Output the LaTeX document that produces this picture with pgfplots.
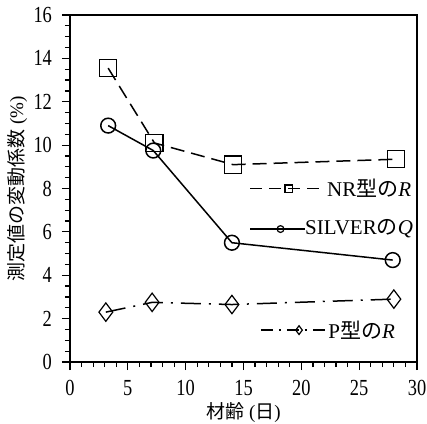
\documentclass[border=0pt]{standalone}
\usepackage{fontspec}
\setmainfont{Liberation Serif}
\newfontfamily\tickfont[FakeStretch=0.8]{Liberation Serif}
\newfontfamily\cjk{Noto Sans CJK JP}
\usepackage{pgfplots}
\pgfplotsset{compat=1.18}
\begin{document}
\begin{tikzpicture}
\begin{axis}[
  scale only axis,
  width=173.5pt, height=173.5pt,
  xmin=0, xmax=30, ymin=0, ymax=16,
  xtick={0,5,...,30}, ytick={0,2,...,16},
  minor x tick num=4, minor y tick num=3,
  tick align=outside,
  xtick pos=bottom, ytick pos=left,
  major tick length=4pt, minor tick length=2.5pt,
  axis line style={line width=0.9pt},
  every tick/.style={black, line width=0.6pt},
  /pgf/number format/assume math mode=true,
  tick label style={font=\tickfont\fontsize{11.5}{13}\selectfont},
  xticklabel style={yshift=-1.5pt},
  yticklabel style={xshift=-1.5pt},
  xlabel={{\cjk 材齢} ({\cjk 日})},
  ylabel={{\cjk 測定値の変動係数} (\%)},
  label style={font=\fontsize{9.5}{11}\selectfont},
  xlabel style={at={(axis description cs:0.5,-0.147)}, anchor=center},
  ylabel style={at={(axis description cs:-0.152,0.5)}, anchor=center},
  clip=false,
]
% NR
\addplot[black, line width=0.75pt, dash pattern=on 7pt off 3.5pt,
  mark=square, mark size=4.3pt, mark options={solid, fill=white, line width=0.6pt}]
  coordinates {(3.3,13.55) (7.3,10.1) (14.1,9.1) (28.2,9.35)};
% SILVER
\addplot[black, line width=0.75pt,
  mark=o, mark size=3.7pt, mark options={solid, fill=white, line width=0.75pt}]
  coordinates {(3.3,10.9) (7.2,9.75) (14.0,5.5) (27.9,4.7)};
% P
\addplot[black, line width=0.75pt, dash pattern=on 10pt off 4pt on 1pt off 4pt,
  mark=diamond, mark size=4.6pt, mark options={solid, fill=white, line width=0.6pt}]
  coordinates {(3.1,2.3) (7.1,2.75) (14.0,2.65) (28.0,2.9)};
% legend samples
\addplot[black, line width=0.75pt, dash pattern=on 6pt off 3.5pt,
  mark=square, mark size=1.8pt, mark indices={2}, mark options={solid, fill=white, line width=0.6pt}]
  coordinates {(15.6,8.0) (18.9,8.0) (22.1,8.0)};
\addplot[black, line width=0.75pt,
  mark=o, mark size=1.7pt, mark indices={2}, mark options={solid, fill=white, line width=0.6pt}]
  coordinates {(15.6,6.13) (18.2,6.13) (20.3,6.13)};
\addplot[black, line width=0.75pt, dash pattern=on 6pt off 3pt on 1pt off 3pt,
  mark=diamond, mark size=2.2pt, mark indices={2}, mark options={solid, fill=white, line width=0.6pt}]
  coordinates {(16.5,1.47) (19.8,1.47) (22.1,1.47)};
\node[anchor=west, inner sep=0pt, font=\fontsize{10.5}{12}\selectfont] at (axis cs:22.2,8.0) {NR{\cjk 型の}\textit{R}};
\node[anchor=west, inner sep=0pt, font=\fontsize{10.5}{12}\selectfont] at (axis cs:20.3,6.13) {SILVER{\cjk の}\textit{Q}};
\node[anchor=west, inner sep=0pt, font=\fontsize{10.5}{12}\selectfont] at (axis cs:22.3,1.47) {P{\cjk 型の}\textit{R}};
\end{axis}
\pgfresetboundingbox
\path[use as bounding box] ([shift={(-35pt,-30.5pt)}]current axis.south west) rectangle ([shift={(5pt,7.5pt)}]current axis.north east);
\end{tikzpicture}
\end{document}
